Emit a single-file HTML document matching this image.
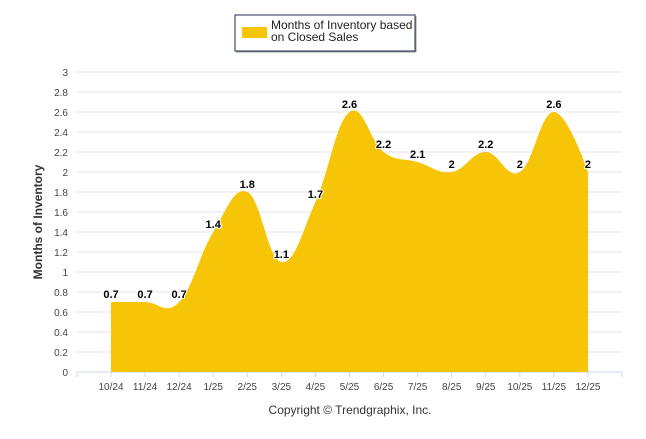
<!DOCTYPE html>
<html><head><meta charset="utf-8"><style>
body{margin:0;background:#fff;font-family:"Liberation Sans",sans-serif}
svg text{font-family:"Liberation Sans",sans-serif}
</style></head><body>
<svg width="646" height="434">
<rect x="0" y="0" width="646" height="434" fill="#fff"/>
<g id="grid"></g>
<g id="area"></g>
<g id="labels"></g>
<g id="xaxis"></g>
<g id="yaxis"></g>
<text x="42" y="222" transform="rotate(-90 42 222)" text-anchor="middle" font-size="12" font-weight="bold" fill="#333">Months of Inventory</text>
<text x="350" y="414" text-anchor="middle" font-size="12" fill="#333">Copyright © Trendgraphix, Inc.</text>
<g>
<rect x="235" y="15" width="180" height="36" fill="#fff" stroke="#1f2d4f" stroke-width="1"/>
<line x1="236" y1="52" x2="416" y2="52" stroke="#999" stroke-width="1"/>
<line x1="416" y1="16" x2="416" y2="52" stroke="#999" stroke-width="1"/>
<rect x="242" y="27" width="25" height="11" fill="#f7c508"/>
<text x="271" y="29" font-size="12" fill="#222">Months of Inventory based</text>
<text x="271" y="41" font-size="12" fill="#222">on Closed Sales</text>
</g>
</svg>
<script>
const categories=["10/24","11/24","12/24","1/25","2/25","3/25","4/25","5/25","6/25","7/25","8/25","9/25","10/25","11/25","12/25"];
const values=[0.7,0.7,0.7,1.4,1.8,1.1,1.7,2.6,2.2,2.1,2,2.2,2,2.6,2];
const labels=["0.7","0.7","0.7","1.4","1.8","1.1","1.7","2.6","2.2","2.1","2","2.2","2","2.6","2"];
const yTicks=[0,0.2,0.4,0.6,0.8,1,1.2,1.4,1.6,1.8,2,2.2,2.4,2.6,2.8,3];
const NS="http://www.w3.org/2000/svg";
const L=77,R=622,T=72,B=372,X0=111,DX=34.07,YMAX=3;
const xs=i=>X0+i*DX, ys=v=>B-(v/YMAX)*(B-T);
function mk(tag,attrs,parent){const e=document.createElementNS(NS,tag);for(const k in attrs)e.setAttribute(k,attrs[k]);parent.appendChild(e);return e;}
const grid=document.getElementById('grid'),ya=document.getElementById('yaxis'),xa=document.getElementById('xaxis');
yTicks.forEach(t=>{
 const l=mk('line',{x1:L,x2:R,y1:ys(t),y2:ys(t),stroke:t===0?'#ccd6eb':'#e6e6e6','stroke-width':1},grid);
 
 
 const tx=mk('text',{x:68,y:ys(t)+4,'text-anchor':'end','font-size':10,fill:'#444'},ya);
 
 
 tx.textContent=t;
});
mk('line',{x1:L,x2:L,y1:B,y2:B+5,stroke:'#ccd6eb'},xa);
categories.forEach((c,i)=>{
 mk('line',{x1:xs(i),x2:xs(i),y1:B,y2:B+5,stroke:'#ccd6eb'},xa);
 const tx=mk('text',{x:xs(i),y:B+18,'text-anchor':'middle','font-size':10,fill:'#444'},xa);
 
 
 tx.textContent=c;
});
mk('line',{x1:xs(categories.length-1)+DX,x2:xs(categories.length-1)+DX,y1:B,y2:B+5,stroke:'#ccd6eb'},xa);
const pts=values.map((v,i)=>[xs(i),ys(v)]);
function cont(i){
 const [x,y]=pts[i],p=pts[i-1],n=pts[i+1],s=1.5,d=2.5;
 let lx=(s*x+p[0])/d,ly=(s*y+p[1])/d,rx=(s*x+n[0])/d,ry=(s*y+n[1])/d;
 const c=((ry-ly)*(rx-x))/(rx-lx)+y-ry;ly+=c;ry+=c;
 return [lx,ly,rx,ry];
}
let d=`M${pts[0][0]},${B}L${pts[0][0]},${pts[0][1]}`;
for(let i=1;i<pts.length;i++){
 const a=i-1>0?cont(i-1):[0,0,pts[0][0],pts[0][1]];
 const b=i<pts.length-1?cont(i):[pts[i][0],pts[i][1]];
 d+=`C${a[2]},${a[3]} ${b[0]},${b[1]} ${pts[i][0]},${pts[i][1]}`;
}
d+=`L${pts[pts.length-1][0]},${B}Z`;
const ar=mk('path',{d:d,fill:'#f7c508'},document.getElementById('area'));


const lg=document.getElementById('labels');
values.forEach((v,i)=>{
 const tx=mk('text',{x:xs(i),y:ys(v)-4,'text-anchor':'middle','font-size':11,'font-weight':'bold',fill:'#000',stroke:'#fff','stroke-width':2,'paint-order':'stroke'},lg);
 
 
 tx.textContent=labels[i];
});
</script>
</body></html>
